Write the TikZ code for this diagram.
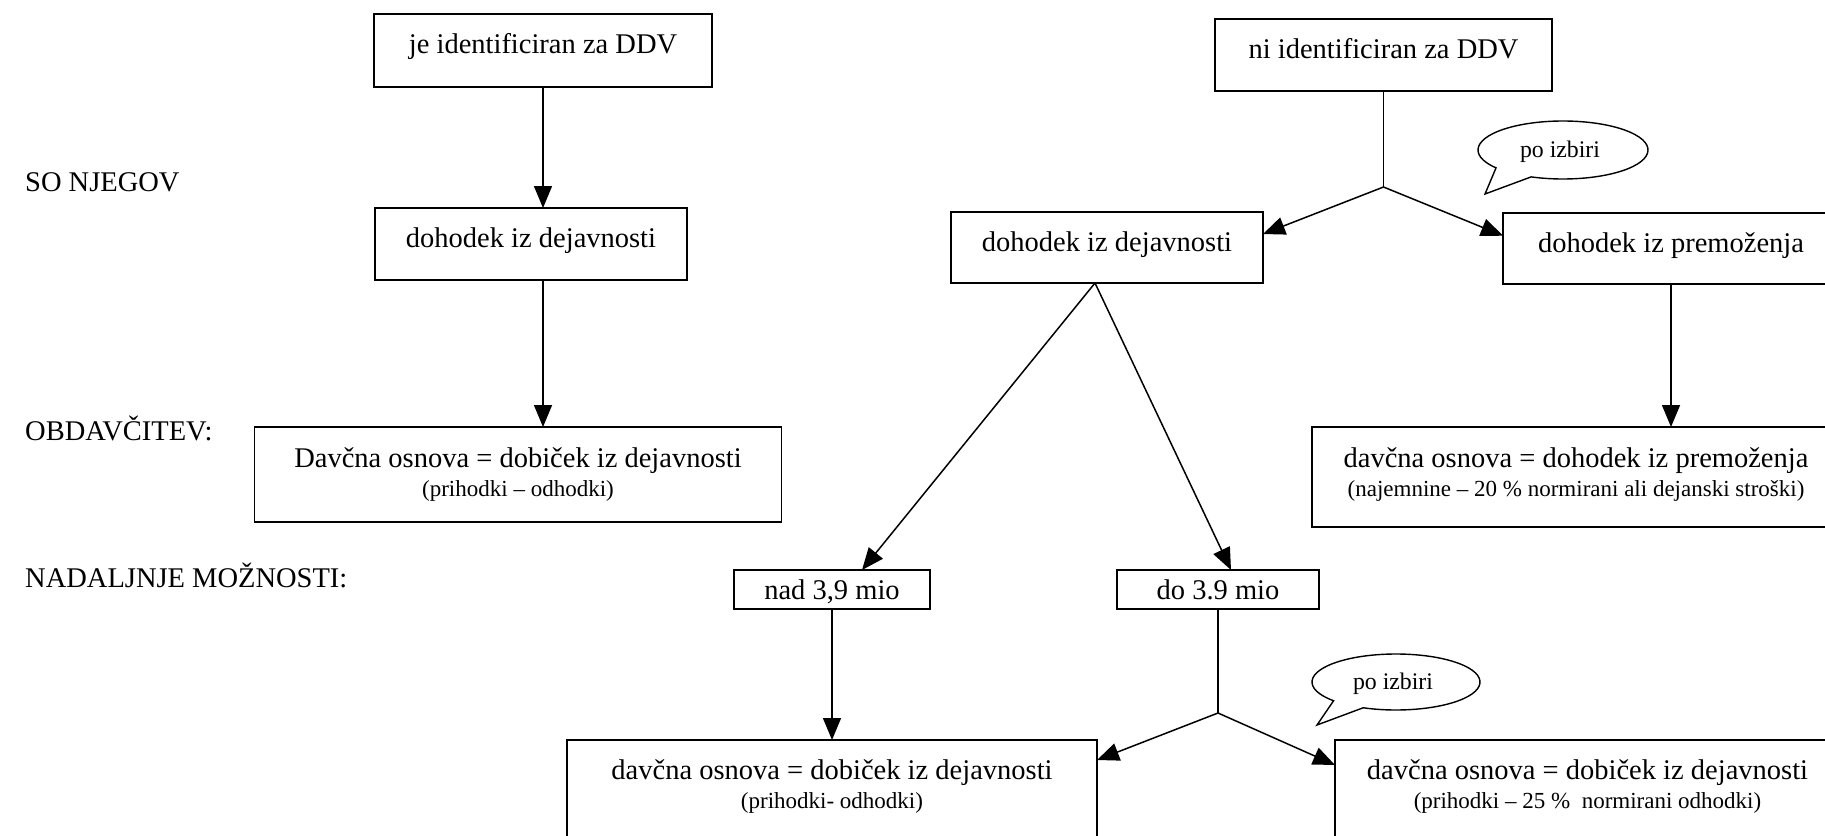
\documentclass[tikz,border=0pt]{standalone}
\usepackage{fontspec}
\setmainfont{Liberation Serif}
\usetikzlibrary{arrows.meta,calc}
\newcommand{\subtxt}{\fontsize{23}{24}\selectfont}
\tikzset{
  box/.style={draw, line width=1.6pt, inner sep=0pt, outer sep=0pt, anchor=base, font=\fontsize{28.5}{29}\selectfont},
  conn/.style={line width=1.5pt},
  arr/.style={conn, -{Triangle[length=22pt,width=18pt]}},
  lab/.style={anchor=base west, inner sep=0pt, font=\fontsize{28.5}{29}\selectfont},
  bub/.style={line width=1.4pt, fill=white, line join=miter},
  bubtxt/.style={inner sep=0pt, font=\fontsize{23.8}{24}\selectfont}
}
\begin{document}
\begin{tikzpicture}[x=1pt,y=1pt]
\useasboundingbox (0,0) rectangle (1825,-835);
% left labels
\node[lab] (L1) at (25,-191) {SO NJEGOV};
\node[lab] (L2) at (25,-440) {OBDAV\v{C}ITEV:};
\node[lab] (L3) at (25,-587) {NADALJNJE MO\v{Z}NOSTI:};
% boxes
\node[box, minimum width=338pt, text height=39pt, text depth=34pt] (B1) at (543,-53) {je identificiran za DDV};
\node[box, minimum width=337pt, text height=39pt, text depth=33pt] (B2) at (1383.5,-58) {ni identificiran za DDV};
\node[box, minimum width=312pt, text height=39pt, text depth=33pt] (B3) at (531,-247) {dohodek iz dejavnosti};
\node[box, minimum width=312pt, text height=39pt, text depth=32pt] (B4) at (1107,-251) {dohodek iz dejavnosti};
\node[box, minimum width=336pt, text height=39pt, text depth=32pt] (B5) at (1671,-252) {dohodek iz premoženja};
\node[box, minimum width=527pt, text height=40pt, text depth=55pt] (B6) at (518,-467)
  {\begin{tabular}[t]{@{}c@{}}Davčna osnova = dobiček iz dejavnosti\\ \subtxt (prihodki – odhodki)\end{tabular}};
\node[box, minimum width=528pt, text height=40pt, text depth=60pt] (B7) at (1576,-467)
  {\begin{tabular}[t]{@{}c@{}}davčna osnova = dohodek iz premoženja\\ \subtxt (najemnine – 20 \% normirani ali dejanski stroški)\end{tabular}};
\node[box, minimum width=196pt, text height=29pt, text depth=10pt] (B8) at (832,-599) {nad 3,9 mio};
\node[box, minimum width=202pt, text height=29pt, text depth=10pt] (B9) at (1218,-599) {do 3.9 mio};
\node[box, minimum width=530pt, text height=39pt, text depth=75pt] (B10) at (832,-779)
  {\begin{tabular}[t]{@{}c@{}}davčna osnova = dobiček iz dejavnosti\\ \subtxt (prihodki- odhodki)\end{tabular}};
\node[box, minimum width=505pt, text height=39pt, text depth=75pt] (B11) at (1587.5,-779)
  {\begin{tabular}[t]{@{}c@{}}davčna osnova = dobiček iz dejavnosti\\ \subtxt (prihodki – 25 \%\ \ normirani odhodki)\end{tabular}};
% junctions
\coordinate (J1) at ($(B2.south)+(0,-96)$);
\coordinate (A4) at ($(B4.south)+(-12,0)$);
\coordinate (J2) at ($(B9.south)+(-2,-104)$);
% connectors
\draw[arr] (B1.south) -- (B1.south |- B3.north);
\draw[arr] (B1.south |- B3.south) -- (B1.south |- B6.north);
\draw[conn] (B2.south) -- (J1);
\draw[arr] (J1) -- ($(B4.north east)!0.31!(B4.south east)$);
\draw[arr] (J1) -- ($(B5.north west)!0.32!(B5.south west)$);
\draw[arr] (B5.south) -- (B5.south |- B7.north);
\draw[arr] (A4) -- ($(B8.north)+(30,0)$);
\draw[arr] (A4) -- ($(B9.north)+(13,0)$);
\draw[arr] (B8.south) -- (B10.north);
\draw[conn] (B9.south) -- (B9.south |- J2);
\draw[arr] (B9.south |- J2) -- ($(B10.north east)+(0,-20)$);
\draw[arr] (B9.south |- J2) -- ($(B11.north west)+(0,-25)$);
% speech bubbles
\coordinate (E1) at (1563,-150);
\coordinate (T1) at (1485,-194);
\draw[bub] ($(E1)+(218:85pt and 29pt)$) arc[start angle=218, end angle=-112, x radius=85pt, y radius=29pt] -- (T1) -- cycle;
\node[bubtxt] (P1) at (1560,-152) {po izbiri};
\coordinate (E2) at (1396,-682);
\coordinate (T2) at (1317,-725);
\draw[bub] ($(E2)+(222:84pt and 28pt)$) arc[start angle=222, end angle=-113, x radius=84pt, y radius=28pt] -- (T2) -- cycle;
\node[bubtxt] (P2) at (1393,-684) {po izbiri};
\end{tikzpicture}
\end{document}
